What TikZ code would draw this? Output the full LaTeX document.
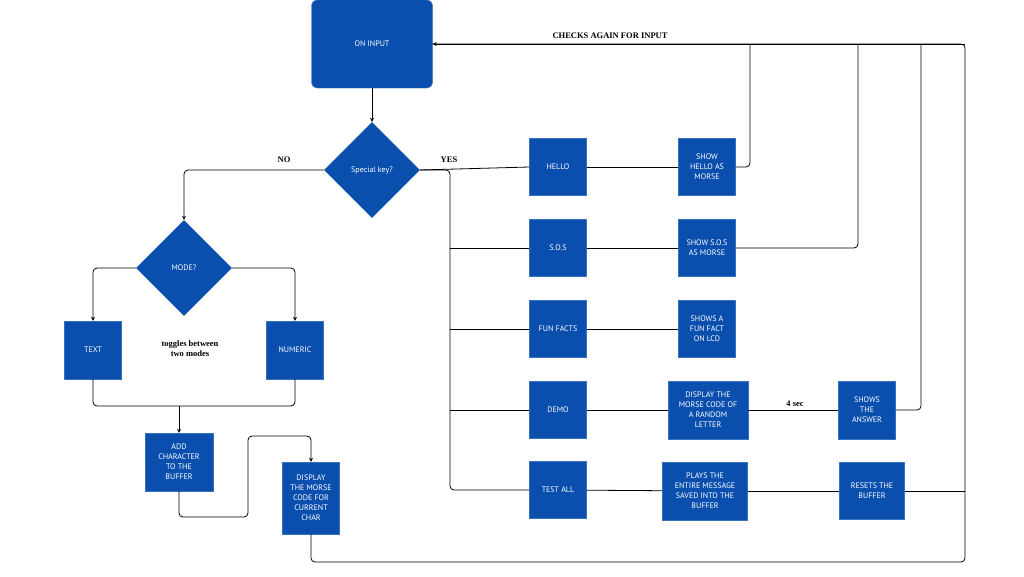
\documentclass[tikz,border=0pt]{standalone}
\usepackage{fontspec}
\setmainfont{PT Sans}
\newfontfamily\lbl{Liberation Serif}
\usetikzlibrary{shapes.geometric,arrows.meta}
\definecolor{bx}{HTML}{0A4FAD}
\begin{document}
\begin{tikzpicture}[x=1pt,y=-1pt,
  box/.style={fill=bx,draw=bx!80,text=white,font=\fontsize{8}{10}\selectfont,align=center,inner sep=1pt},
  dia/.style={diamond,fill=bx,text=white,font=\fontsize{8}{10}\selectfont,minimum width=96pt,minimum height=96pt,inner sep=0pt},
  ln/.style={draw=black,line width=0.8pt,rounded corners=4pt},
  ar/.style={ln,-{Stealth[length=4pt,width=4pt]}},
  lab/.style={font=\lbl\bfseries\fontsize{8.5}{10}\selectfont}]
\useasboundingbox[fill=white] (0,0) rectangle (1024,576);
% nodes
\node[box,rounded corners=6pt,minimum width=121pt,minimum height=88pt] (in) at (372,44) {ON INPUT};
\node[dia] (sk) at (372,170) {Special key?};
\node[dia] (mode) at (184,268) {MODE?};
\node[box,minimum width=57pt,minimum height=58pt] (text) at (93,350) {TEXT};
\node[box,minimum width=57pt,minimum height=58pt] (num) at (295,350) {NUMERIC};
\node[box,minimum width=68pt,minimum height=58pt] (add) at (179,462) {ADD\\CHARACTER\\TO THE\\BUFFER};
\node[box,minimum width=57pt,minimum height=72pt] (disp) at (311,498) {DISPLAY\\THE MORSE\\CODE FOR\\CURRENT\\CHAR};
\foreach \n/\t/\y in {hello/HELLO/167,sos/S.O.S/248,fun/FUN FACTS/329,demo/DEMO/410,test/TEST ALL/490}
  \node[box,minimum width=57pt,minimum height=57pt] (\n) at (558,\y) {\t};
\node[box,minimum width=57pt,minimum height=57pt] (shh) at (707,167) {SHOW\\HELLO AS\\MORSE};
\node[box,minimum width=57pt,minimum height=57pt] (shs) at (707,248) {SHOW S.O.S\\AS MORSE};
\node[box,minimum width=57pt,minimum height=57pt] (shf) at (707,329) {SHOWS A\\FUN FACT\\ON LCD};
\node[box,minimum width=80pt,minimum height=58pt] (dmc) at (708,410) {DISPLAY THE\\MORSE CODE OF\\A RANDOM\\LETTER};
\node[box,minimum width=57pt,minimum height=58pt] (ans) at (867,410) {SHOWS\\THE\\ANSWER};
\node[box,minimum width=85pt,minimum height=58pt] (play) at (705,491) {PLAYS THE\\ENTIRE MESSAGE\\SAVED INTO THE\\BUFFER};
\node[box,minimum width=65pt,minimum height=57pt] (rst) at (872,491) {RESETS THE\\BUFFER};
% labels
\node[lab] (l1) at (610,36) {CHECKS AGAIN FOR INPUT};
\node[lab] (l2) at (284,160) {NO};
\node[lab] (l3) at (449,160) {YES};
\node[lab] (l4) at (795,404) {4 sec};
\node[lab,align=center] (l5) at (190,349) {toggles between\\two modes};
% connectors
\draw[ar] (in.south) -- (sk.north);
\draw[ar] (sk.west) -| (mode.north);
\draw[ln] (sk.east) -- (hello.west);
\draw[ln] (sk.east) -| (450,490) -- (test.west);
\draw[ln] (450,248) -- (sos.west);
\draw[ln] (450,329) -- (fun.west);
\draw[ln] (450,410) -- (demo.west);
\draw[ln] (hello) -- (shh); \draw[ln] (sos) -- (shs); \draw[ln] (fun) -- (shf);
\draw[ln] (demo) -- (dmc); \draw[ln] (dmc) -- (ans);
\draw[ln] (test) -- (play); \draw[ln] (play) -- (rst);
\coordinate (top) at (965,44);
\draw[ar] (top) -- (in.east);
\draw[ln] (shh.east) -| (750,44);
\draw[ln] (shs.east) -| (858,44);
\draw[ln] (ans.east) -| (921,44);
\draw[ln] (in.east) -| (965,562) -| (disp.south);
\draw[ln] (rst.east) -- (965,491);
\draw[ar] (mode.west) -| (text.north);
\draw[ar] (mode.east) -| (num.north);
\draw[ln] (text.south) |- (179,406) -| (num.south);
\draw[ar] (179,406) -- (add.north);
\draw[ar] (add.south) |- (248,517) |- (311,436) -- (disp.north);
\end{tikzpicture}
\end{document}
